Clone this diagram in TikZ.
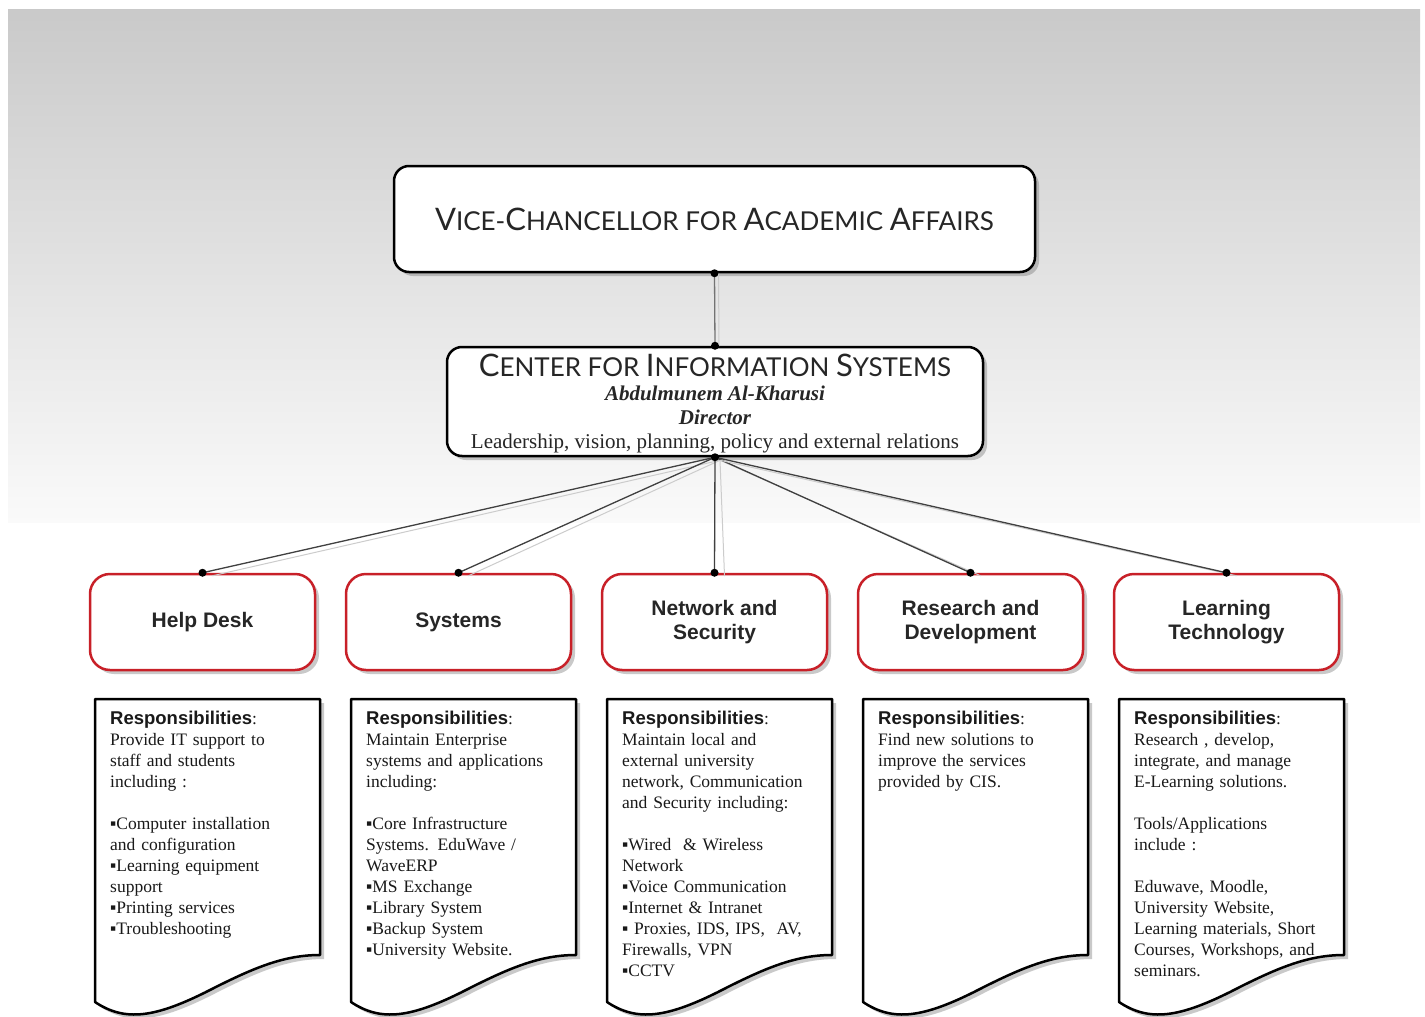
\documentclass[tikz,border=0pt]{standalone}
\usepackage{fontspec}
\usepackage{graphicx}
\usetikzlibrary{shadows}
\newfontfamily\bodyfont{Liberation Serif}
\newfontfamily\headfont{Liberation Sans}
\newfontfamily\titlefont{Lato}
\definecolor{cisred}{RGB}{200,32,40}
\newcommand{\capl}[1]{{\fontsize{31}{24}\selectfont #1}}
\newcommand{\resp}{{\headfont\bfseries\fontsize{18.5}{21}\selectfont Responsibilities}:\\}
\begin{document}
\begin{tikzpicture}[x=1pt,y=-1pt,line join=round,line cap=round]
	\tikzset{shad/.style={drop shadow={shadow xshift=4pt,shadow yshift=-4pt,fill=black!60,opacity=.35}},
		topbox/.style={draw,line width=2.5pt,rounded corners=15pt,fill=white,shad,inner sep=0pt,align=center,text=black!85},
		unitbox/.style={draw=cisred,line width=2.5pt,rounded corners=20pt,fill=white,shad,minimum width=225pt,minimum height=96pt,inner sep=0pt,align=center,text=black!85,font=\headfont\bfseries\fontsize{21}{24}\selectfont},
		docbox/.style={draw,line width=2.5pt,fill=white,shad},
		doctext/.style={anchor=north west,inner sep=0pt,text width=215pt,align=left,text=black!90,font=\bodyfont\fontsize{17.5}{21}\selectfont},
		link/.style={draw=black!75,line width=1.3pt},
		linkshadow/.style={draw=black!20,line width=1pt}}
	\useasboundingbox (0,0) rectangle (1425,1017);
	% nền xám nhạt dần
	\fill[white] (0,0) rectangle (1425,1017);
	\shade[top color=black!21,bottom color=black!2] (8,9) rectangle (1420,522);
	% hai khung trên cùng
	\node[topbox,minimum width=641pt,minimum height=106pt] (vc) at (714.5,219)
		{\titlefont\fontsize{26}{24}\selectfont \capl{V}ICE-\capl{C}HANCELLOR FOR \capl{A}CADEMIC \capl{A}FFAIRS};
	\node[topbox,minimum width=536pt,minimum height=109pt,font=\fontsize{21}{24}\selectfont] (cis) at (715,401.5)
		{\rule{0pt}{27.5pt}{\titlefont\fontsize{26}{24}\selectfont \capl{C}ENTER FOR \capl{I}NFORMATION \capl{S}YSTEMS}\\
		{\bodyfont\bfseries\itshape Abdulmunem Al-Kharusi}\\
		{\bodyfont\bfseries\itshape Director}\\
		{\bodyfont Leadership, vision, planning, policy and external relations}};
	% các bộ phận
	\foreach \i/\cx/\lab in {1/202.5/Help Desk,2/458.5/Systems,3/714.5/Network and\\Security,
		4/970.5/Research and\\Development,5/1226.5/Learning\\Technology}{
		\node[unitbox] (u\i) at (\cx,622) {\lab};
	}
	% đường nối
	\draw[linkshadow] ([xshift=4pt]vc.south) -- ([xshift=4pt]cis.north);
	\draw[link,draw=black!55] (vc.south) -- (cis.north);
	\foreach \i in {1,...,5}{
		\draw[linkshadow] ([shift={(5,3)}]cis.south) -- ([shift={(10,3)}]u\i.north);
		\draw[link] (cis.south) -- (u\i.north);
		\fill (u\i.north) circle (4);
	}
	\fill (vc.south) circle (4) (cis.north) circle (4) (cis.south) circle (4);
	% các tờ trách nhiệm
	\foreach \L in {95,351,607,863,1119}{
		\draw[docbox] (\L,699) -- ({\L+225},699) -- ({\L+225},955)
			.. controls ({\L+190},955) and ({\L+160},967) .. ({\L+115},990)
			.. controls ({\L+60},1018) and ({\L+30},1022) .. (\L,1002) -- cycle;
	}
	\node[doctext] (d1) at (110,711) {\resp
		Provide IT support to\\
		staff and students\\
		including :\\[21pt]
		▪Computer installation\\
		and configuration\\
		▪Learning equipment\\
		support\\
		▪Printing services\\
		▪Troubleshooting};
	\node[doctext] (d2) at (366,711) {\resp
		Maintain Enterprise\\
		systems and applications\\
		including:\\[21pt]
		▪Core Infrastructure\\
		Systems. EduWave /\\
		WaveERP\\
		▪MS Exchange\\
		▪Library System\\
		▪Backup System\\
		▪University Website.};
	\node[doctext] (d3) at (622,711) {\resp
		Maintain local and\\
		external university\\
		network, Communication\\
		and Security including:\\[21pt]
		▪Wired \ \& Wireless\\
		Network\\
		▪Voice Communication\\
		▪Internet \& Intranet\\
		▪ Proxies, IDS, IPS, \ AV,\\
		Firewalls, VPN\\
		▪CCTV};
	\node[doctext] (d4) at (878,711) {\resp
		Find new solutions to\\
		improve the services\\
		provided by CIS.};
	\node[doctext] (d5) at (1134,711) {\resp
		Research , develop,\\
		integrate, and manage\\
		E-Learning solutions.\\[21pt]
		Tools/Applications\\
		include :\\[21pt]
		Eduwave, Moodle,\\
		University Website,\\
		Learning materials, Short\\
		Courses, Workshops, and\\
		seminars.};
\end{tikzpicture}
\end{document}
